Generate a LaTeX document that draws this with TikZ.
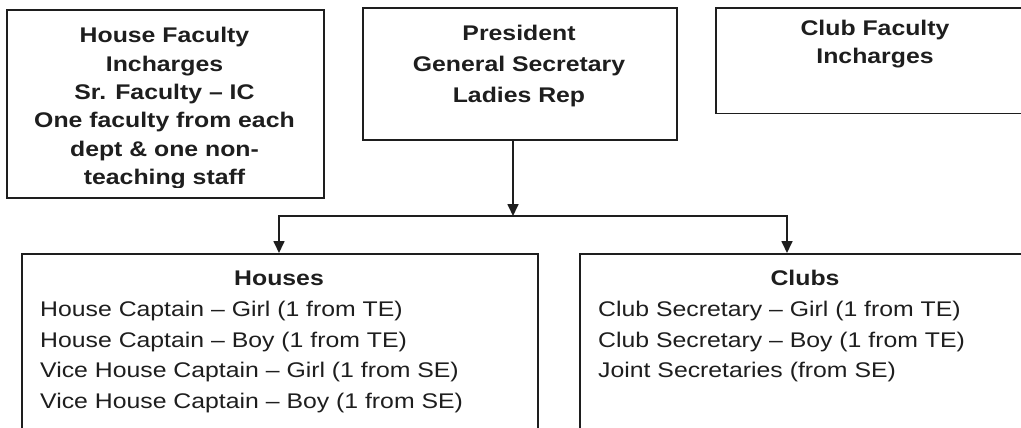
\documentclass[tikz,border=0pt]{standalone}
\usepackage{fontspec}
\setmainfont[FakeStretch=1.17]{Liberation Sans}
\usetikzlibrary{arrows.meta}
\definecolor{ink}{HTML}{1E1E1E}
\begin{document}
\begin{tikzpicture}[x=1pt,y=-1pt,
  box/.style={draw=ink, line width=1.7pt, rectangle, inner sep=0pt, anchor=north west},
  hd/.style={font=\fontsize{21.2}{28.3}\selectfont\bfseries, align=center, inner sep=0pt, text=ink},
  ls/.style={font=\fontsize{21.2}{30.5}\selectfont, align=left, inner sep=0pt, text=ink, anchor=north west},
  conn/.style={draw=ink, line width=1.7pt, -{Triangle[length=12pt,width=11pt]}}]
\useasboundingbox (0,0) rectangle (1021,428);
\fill[white] (0,0) rectangle (1021,428);
% boxes
\node[box, minimum width=317pt, minimum height=188pt] (hfi) at (6,9.3) {};
\node[box, minimum width=314pt, minimum height=132pt] (pres) at (362,7.3) {};
\node[box, minimum width=320pt, minimum height=105.4pt] (cfi) at (715,7.3) {};
\node[box, minimum width=516pt, minimum height=190pt] (houses) at (21,253) {};
\node[box, minimum width=456pt, minimum height=190pt] (clubs) at (579,253) {};
% texts
\begin{scope}
\clip (0,0) rectangle (330,187);
\node[hd, anchor=north] (thfi) at (164.5,27.4) {House Faculty\\Incharges\\Sr. Faculty – IC\\One faculty from each\\dept \& one non-\\teaching staff};
\end{scope}
\node[hd, anchor=north, font=\fontsize{21.2}{31}\selectfont\bfseries] (tpres) at (519,24.7) {President\\General Secretary\\Ladies Rep};
\node[hd, anchor=north, font=\fontsize{21.2}{28}\selectfont\bfseries] (tcfi) at (875,19.7) {Club Faculty\\Incharges};
\node[hd, anchor=base] (thouses) at (279,285.5) {Houses};
\node[hd, anchor=base] (tclubs) at (805,285.5) {Clubs};
\node[ls] (lhouses) at (40,301) {House Captain – Girl (1 from TE)\\House Captain – Boy (1 from TE)\\Vice House Captain – Girl (1 from SE)\\Vice House Captain – Boy (1 from SE)};
\node[ls] (lclubs) at (598,301) {Club Secretary – Girl (1 from TE)\\Club Secretary – Boy (1 from TE)\\Joint Secretaries (from SE)};
% connectors
\coordinate (j) at (513,216);
\coordinate (jl) at (279,216);
\coordinate (jr) at (787,216);
\draw[conn] (pres.south -| j) -- (j);
\draw[conn] (jr) -- (jl) -- (houses.north -| jl);
\draw[conn] (jl) -- (jr) -- (clubs.north -| jr);
\end{tikzpicture}
\end{document}
